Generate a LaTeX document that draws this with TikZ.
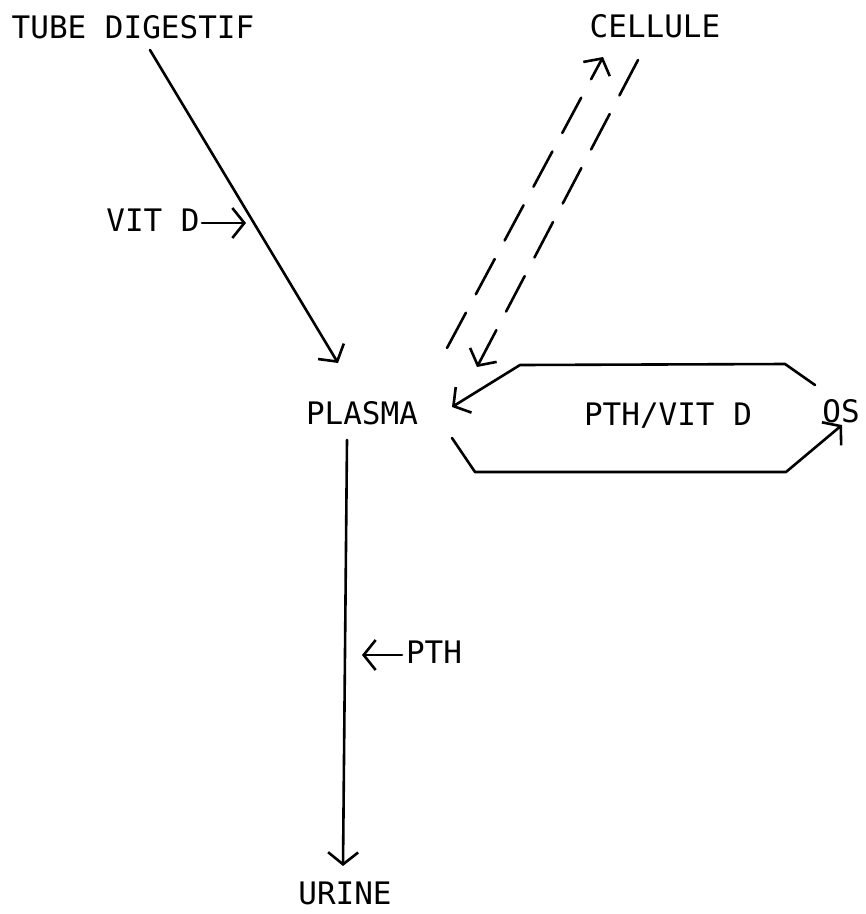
\documentclass[tikz,border=0pt]{standalone}
\usepackage{fontspec}
\setmonofont{DejaVu Sans Mono}
\usetikzlibrary{arrows.meta}
\tikzset{
  lbl/.style={font=\ttfamily\fontsize{31}{36}\selectfont, inner sep=0pt, text height=22.6pt, text depth=0pt, anchor=center},
  conn/.style={line width=2.6pt, line cap=round, line join=round},
  barb/.style={conn, -{Straight Barb[length=12pt,width=30pt]}},
  dashconn/.style={barb, dash pattern=on 40pt off 21pt}
}
\begin{document}
\begin{tikzpicture}[x=1pt,y=-1pt]
\useasboundingbox (0,0) rectangle (866,914);
% labels
\node[lbl] (tube) at (133,27) {TUBE DIGESTIF};
\node[lbl] (cell) at (655,26) {CELLULE};
\node[lbl] (vitd) at (153,220) {VIT D};
\node[lbl] (plasma) at (362,413) {PLASMA};
\node[lbl] (pthvitd) at (668,414) {PTH/VIT D};
\node[lbl] (os) at (841,411) {OS};
\node[lbl] (pth) at (434,652) {PTH};
\node[lbl] (urine) at (345,893) {URINE};
% coordinates
\coordinate (tubeS) at (150,50);
\coordinate (tubeE) at (338,363);
\coordinate (vitS) at (202,223);
\coordinate (vitE) at (246,223);
\coordinate (upS) at (447,348);
\coordinate (upE) at (603,57);
\coordinate (dnS) at (638,60);
\coordinate (dnE) at (477,367);
\coordinate (topA) at (815,385);
\coordinate (topB) at (785,364);
\coordinate (topC) at (520,365);
\coordinate (topE) at (452,407);
\coordinate (botA) at (452,438);
\coordinate (botB) at (475,472);
\coordinate (botC) at (786,472);
\coordinate (botE) at (842,425);
\coordinate (vS) at (347,440);
\coordinate (vE) at (343,866);
\coordinate (pthS) at (402,655);
\coordinate (pthE) at (362,655);
% connectors
\draw[barb] (tubeS) -- (tubeE);
\draw[barb] (vitS) -- (vitE);
\draw[dashconn] (upS) -- (upE);
\draw[dashconn] (dnS) -- (dnE);
\draw[barb] (topA) -- (topB) -- (topC) -- (topE);
\draw[barb] (botA) -- (botB) -- (botC) -- (botE);
\draw[barb] (vS) -- (vE);
\draw[barb] (pthS) -- (pthE);
\end{tikzpicture}
\end{document}
